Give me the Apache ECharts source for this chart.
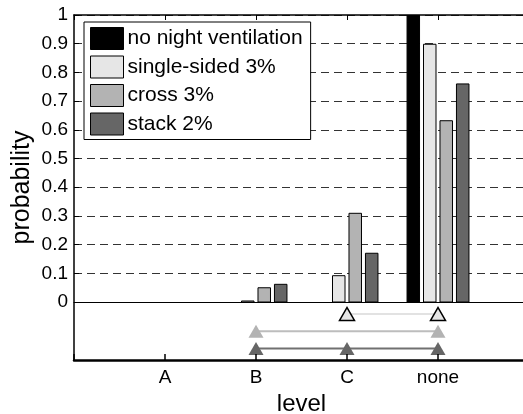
<!DOCTYPE html>
<html>
<head>
<meta charset="utf-8">
<script src="https://cdn.jsdelivr.net/npm/echarts@6/dist/echarts.min.js"></script>
<style>
  html, body { margin: 0; padding: 0; background: #fff; }
  #chart { width: 523px; height: 414px; }
</style>
</head>
<body>
<div id="chart"></div>
<script>
// Ventilation levels on the x axis
const levels = ['A', 'B', 'C', 'none'];

// Probability of each level per ventilation strategy
const seriesNames = ['no night ventilation', 'single-sided 3%', 'cross 3%', 'stack 2%'];
const noNight   = [0, 0, 0, 1.0];
const single3   = [0, 0.007, 0.095, 0.9];
const cross3    = [0, 0.053, 0.312, 0.634];
const stack2    = [0, 0.065, 0.173, 0.762];

// Significance markers below zero: which levels each strategy is marked at
const singleMarks = ['C', 'none'];
const crossMarks  = ['B', 'none'];
const stackMarks  = ['B', 'C', 'none'];
const markRowLevel = [-0.04, -0.10, -0.16];

const yTicks = [0, 0.1, 0.2, 0.3, 0.4, 0.5, 0.6, 0.7, 0.8, 0.9, 1];
const yBoxMin = -0.2;

const colors = ['#000000', '#e6e6e6', '#b3b3b3', '#666666'];
const FONT = '"Liberation Sans", Arial, Helvetica, sans-serif';

// pad the category axis so categories sit one unit in from each border
const axisCats = ['', ...levels, ' '];
const pad = arr => [null, ...arr, null];

const chart = echarts.init(document.getElementById('chart'));

const barSeries = [noNight, single3, cross3, stack2].map((vals, i) => ({
  name: seriesNames[i],
  type: 'bar',
  xAxisIndex: 0,
  yAxisIndex: 0,
  data: pad(vals),
  barWidth: 13.5,
  barGap: '22%',
  itemStyle: { color: colors[i], borderColor: '#000', borderWidth: 1 },
  emphasis: { disabled: true },
  animation: false,
  z: 3
}));

function markSeries(levelsMarked, y, fill, lineColor, border) {
  return {
    type: 'line',
    xAxisIndex: 0,
    yAxisIndex: 0,
    data: levelsMarked.map(l => [l, y]),
    symbol: 'triangle',
    symbolSize: [15, 13],
    showAllSymbol: true,
    lineStyle: { color: lineColor, width: 2 },
    itemStyle: { color: fill, borderColor: border || fill, borderWidth: border ? 1.5 : 0 },
    emphasis: { disabled: true },
    animation: false,
    silent: true,
    z: 4
  };
}

const option = {
  backgroundColor: '#fff',
  animation: false,
  textStyle: { fontFamily: FONT },
  grid: [
    // full axes box, including the marker strip below zero
    { left: 74, top: 15, width: 455, height: 345, containLabel: false, outerBoundsMode: 'none' },
    // upper part spanning 0..1, carries the labelled ticks and grid lines
    { left: 74, top: 15, width: 455, height: 287, containLabel: false, outerBoundsMode: 'none' }
  ],
  legend: {
    orient: 'vertical',
    left: 84,
    top: 22,
    data: seriesNames,
    itemWidth: 33,
    itemHeight: 22,
    itemGap: 5.5,
    padding: [5, 8, 4, 6],
    backgroundColor: '#fff',
    borderColor: '#000',
    borderWidth: 1,
    borderRadius: 0,
    icon: 'rect',
    itemStyle: { borderColor: '#000', borderWidth: 1 },
    textStyle: { fontSize: 21, color: '#000', fontFamily: FONT, padding: [0, 0, 0, -1] },
    selectedMode: false,
    z: 10
  },
  xAxis: [
    {
      // bottom edge of the box, with category labels
      gridIndex: 0,
      type: 'category',
      data: axisCats,
      boundaryGap: false,
      position: 'bottom',
      name: 'level',
      nameLocation: 'middle',
      nameGap: 27,
      nameTextStyle: { fontSize: 24, color: '#000', fontFamily: FONT },
      axisLine: { show: true, onZero: false, lineStyle: { color: '#000', width: 2.5 } },
      axisTick: { show: true, inside: true, length: 6, lineStyle: { color: '#000', width: 1.5 } },
      axisLabel: { fontSize: 19, color: '#000', margin: 8, fontFamily: FONT, interval: 0 },
      splitLine: { show: false },
      z: 6
    },
    {
      // top edge of the box
      gridIndex: 0,
      type: 'category',
      data: axisCats,
      boundaryGap: false,
      position: 'top',
      axisLine: { show: true, onZero: false, lineStyle: { color: '#000', width: 1.5 } },
      axisTick: { show: true, inside: true, length: 5, lineStyle: { color: '#000' } },
      axisLabel: { show: false },
      splitLine: { show: false }
    },
    {
      // zero baseline of the bars
      gridIndex: 1,
      type: 'category',
      data: axisCats,
      boundaryGap: false,
      position: 'bottom',
      axisLine: { show: true, onZero: false, lineStyle: { color: '#000', width: 1.2 } },
      axisTick: { show: false },
      axisLabel: { show: false },
      splitLine: { show: false }
    }
  ],
  yAxis: [
    {
      gridIndex: 0,
      type: 'value',
      min: yBoxMin,
      max: 1,
      interval: 0.1,
      name: 'probability',
      nameLocation: 'middle',
      nameGap: 39,
      nameTextStyle: { fontSize: 25, color: '#000', fontFamily: FONT },
      axisLine: { show: true, onZero: false, lineStyle: { color: '#000', width: 1.5 } },
      axisTick: { show: false },
      axisLabel: { show: false },
      splitLine: { show: false }
    },
    {
      gridIndex: 1,
      type: 'value',
      min: yTicks[0],
      max: yTicks[yTicks.length - 1],
      interval: 0.1,
      axisLine: { show: false },
      axisTick: { show: true, inside: true, length: 5, lineStyle: { color: '#000' } },
      axisLabel: {
        fontSize: 19, color: '#000', margin: 6, fontFamily: FONT,
        formatter: v => String(Math.round(v * 10) / 10)
      },
      splitLine: { show: true, lineStyle: { color: '#333', width: 1, type: [8, 5] } }
    }
  ],
  series: [
    ...barSeries,
    markSeries(singleMarks, markRowLevel[0], colors[1], '#e2e2e2', '#000'),
    markSeries(crossMarks, markRowLevel[1], colors[2], '#bdbdbd'),
    markSeries(stackMarks, markRowLevel[2], colors[3], '#707070')
  ]
};

chart.setOption(option);
</script>
</body>
</html>
